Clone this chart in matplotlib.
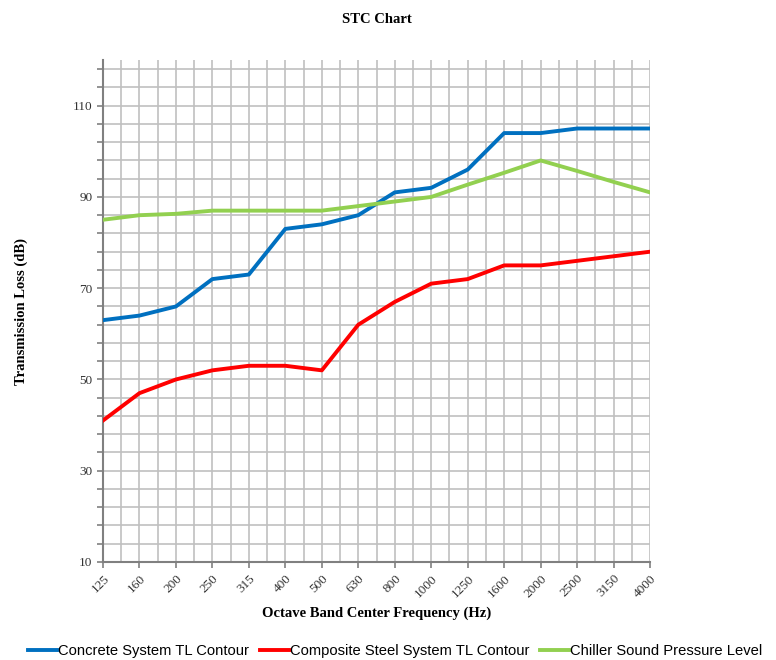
import numpy as np
import matplotlib.pyplot as plt

freqs = ['125', '160', '200', '250', '315', '400', '500', '630', '800',
         '1000', '1250', '1600', '2000', '2500', '3150', '4000']
concrete = [63, 64, 66, 72, 73, 83, 84, 86, 91, 92, 96, 104, 104, 105, 105, 105]
steel = [41, 47, 50, 52, 53, 53, 52, 62, 67, 71, 72, 75, 75, 76, 77, 78]
chiller = [85, 86, 86.3, 87, 87, 87, 87, 88, 89, 90, 92.7, 95.3, 98, 95.7, 93.3, 91]

serif = ['Liberation Serif', 'DejaVu Serif']
sans = ['Liberation Sans', 'DejaVu Sans']

fig = plt.figure(figsize=(7.76, 6.6), dpi=100)
ax = fig.add_axes([0.1327, 0.1485, 0.705, 0.7605])

x = np.arange(len(freqs))
ax.plot(x, concrete, color='#0070C0', lw=2.8, label='Concrete System TL Contour', zorder=3)
ax.plot(x, steel, color='#FF0000', lw=2.8, label='Composite Steel System TL Contour', zorder=3)
ax.plot(x, chiller, color='#92D050', lw=2.8, label='Chiller Sound Pressure Level', zorder=3)

ax.set_xlim(0, len(freqs) - 1)
ax.set_ylim(10, 120)
ax.set_xticks(x)
ax.set_xticklabels(freqs, rotation=45, ha='right', rotation_mode='anchor',
                   family=serif, fontsize=9.5, color='#333333')
ax.set_xticks(np.arange(0.5, len(freqs) - 1, 1.0), minor=True)
ax.set_yticks(np.arange(10, 111, 20))
ax.set_yticks(np.arange(10, 120, 4), minor=True)
for t in ax.get_yticklabels():
    t.set_family(serif)
    t.set_fontsize(9.5)
    t.set_color('#333333')

ax.grid(True, which='both', color='#C0C0C0', lw=1.2)
ax.set_axisbelow(True)
ax.tick_params(axis='both', which='major', length=4, color='#808080', width=1.2)
ax.tick_params(axis='x', which='minor', length=0)
ax.tick_params(axis='y', which='minor', length=4, color='#808080', width=1.2)

for s in ['top', 'right']:
    ax.spines[s].set_visible(False)
for s in ['left', 'bottom']:
    ax.spines[s].set_color('#808080')
    ax.spines[s].set_linewidth(1.5)

ax.set_title('STC Chart', family=serif, fontweight='bold', fontsize=10.5, pad=27)
ax.set_xlabel('Octave Band Center Frequency (Hz)', family=serif, fontweight='bold',
              fontsize=10.5, labelpad=5)
ax.set_ylabel('Transmission Loss (dB)', family=serif, fontweight='bold', fontsize=10.5,
              labelpad=32)

fig.legend(loc='lower center', bbox_to_anchor=(0.509, -0.017), ncol=3, frameon=False,
           prop={'family': sans, 'size': 10.6}, handlelength=2.0, handletextpad=0.05,
           columnspacing=0.7)

fig.savefig('out.png', dpi=100)
